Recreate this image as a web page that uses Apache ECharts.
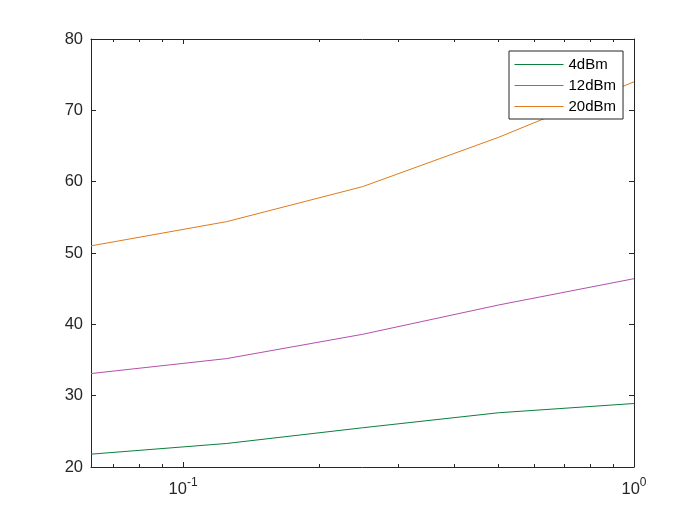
<!DOCTYPE html>
<html>
<head>
<meta charset="utf-8">
<script src="https://cdn.jsdelivr.net/npm/echarts@6/dist/echarts.min.js"></script>
<style>html,body{margin:0;padding:0;background:#fff;}#c{width:700px;height:525px;}</style>
</head>
<body>
<div id="c"></div>
<script>
var xValues = [0.0625, 0.125, 0.25, 0.5, 1];
var seriesNames = ['4dBm', '12dBm', '20dBm'];
var s4dBm = [21.8, 23.3, 25.5, 27.6, 28.9];
var s12dBm = [33.1, 35.2, 38.6, 42.7, 46.4];
var s20dBm = [51.0, 54.4, 59.3, 66.2, 74.0];
var yTicks = [20, 30, 40, 50, 60, 70, 80];
var xMajorTicks = [0.1, 1];
var xMinorTicks = [0.07, 0.08, 0.09, 0.2, 0.3, 0.4, 0.5, 0.6, 0.7, 0.8, 0.9];
var colors = ['#0b7f3e', '#b54fac', '#e07b1c'];

function pairs(ys) { return xValues.map(function (x, i) { return [x, ys[i]]; }); }
var ink = '#262626';
var FONT = 'Liberation Sans';
function xAx(pos, ticks, len, showLabel, showLine) {
  return {
    type: 'log', logBase: 10, min: 0.0625, max: 1, position: pos,
    axisLine: { show: showLine, onZero: false, lineStyle: { color: ink, width: 1 } },
    axisTick: { show: true, inside: true, length: len, customValues: ticks, lineStyle: { color: ink, width: 1 } },
    axisLabel: showLabel ? {
      show: true, customValues: xMajorTicks, margin: 10, color: ink,
      fontFamily: FONT, fontSize: 16.5,
      formatter: function (v) {
        var e = Math.round(Math.log(v) / Math.LN10);
        return '{b|10}{s|' + e + '}';
      },
      rich: {
        b: { fontSize: 16.5, fontFamily: FONT, color: ink },
        s: { fontSize: 12, fontFamily: FONT, color: ink, padding: [0, 0, 12, 0] }
      }
    } : { show: false },
    splitLine: { show: false }, minorTick: { show: false }
  };
}
function yAx(pos, showLabel) {
  return {
    type: 'value', min: 20, max: 80, interval: 10, position: pos,
    axisLine: { show: true, lineStyle: { color: ink, width: 1 } },
    axisTick: { show: true, inside: true, length: 5, lineStyle: { color: ink, width: 1 } },
    axisLabel: { show: showLabel, color: ink, fontFamily: FONT, fontSize: 16.5, margin: 8 },
    splitLine: { show: false }
  };
}
var chart = echarts.init(document.getElementById('c'), null, { renderer: 'canvas' });
chart.setOption({
  animation: false,
  backgroundColor: '#ffffff',
  grid: { left: 91, right: 66, top: 39, bottom: 58, containLabel: false },
  xAxis: [
    xAx('bottom', xMajorTicks, 5, true, true),
    xAx('bottom', xMinorTicks, 3, false, false),
    xAx('top', xMajorTicks, 5, false, true),
    xAx('top', xMinorTicks, 3, false, false)
  ],
  yAxis: [yAx('left', true), yAx('right', false)],
  legend: {
    orient: 'vertical', left: 509, top: 51,
    data: seriesNames,
    backgroundColor: '#ffffff', borderColor: ink, borderWidth: 1,
    padding: [6, 7, 5, 5], itemWidth: 49, itemHeight: 15, itemGap: 6,
    itemStyle: { opacity: 0 },
    lineStyle: { width: 1 },
    textStyle: { color: '#000', fontFamily: FONT, fontSize: 15 }
  },
  series: [
    { name: seriesNames[0], type: 'line', data: pairs(s4dBm), symbol: 'none', color: colors[0], lineStyle: { width: 1, color: colors[0] } },
    { name: seriesNames[1], type: 'line', data: pairs(s12dBm), symbol: 'none', color: colors[1], lineStyle: { width: 1, color: colors[1] } },
    { name: seriesNames[2], type: 'line', data: pairs(s20dBm), symbol: 'none', color: colors[2], lineStyle: { width: 1, color: colors[2] } }
  ]
});
</script>
</body>
</html>
